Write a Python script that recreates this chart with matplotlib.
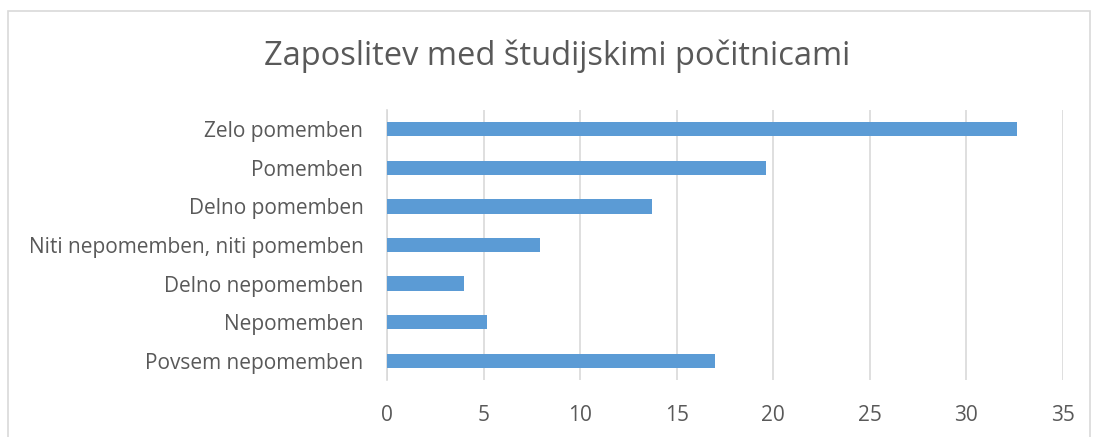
import matplotlib.pyplot as plt
from matplotlib.patches import Rectangle

categories = [
    "Zelo pomemben",
    "Pomemben",
    "Delno pomemben",
    "Niti nepomemben, niti pomemben",
    "Delno nepomemben",
    "Nepomemben",
    "Povsem nepomemben",
]
values = [32.6, 19.6, 13.7, 7.9, 4.0, 5.2, 17.0]
x_ticks = [0, 5, 10, 15, 20, 25, 30, 35]

plt.rcParams['font.family'] = ['Open Sans', 'DejaVu Sans']
text_color = '#595959'
bar_color = '#5b9bd5'
grid_color = '#d9d9d9'

fig = plt.figure(figsize=(10.94, 4.37), dpi=100)
ax = fig.add_axes([387 / 1094, 1 - 380 / 437, 676 / 1094, 270 / 437])

# outer chart border
fig.patches.append(Rectangle((8 / 1094, -0.01), 1082 / 1094, 1 - 11 / 437 + 0.01,
                             transform=fig.transFigure, fill=False,
                             edgecolor='#d9d9d9', linewidth=1.2))

y_pos = list(range(len(categories)))
ax.barh(y_pos, values, height=0.37, color=bar_color, zorder=3)
ax.set_ylim(len(categories) - 0.5, -0.5)
ax.set_xlim(0, 35)
ax.set_xticks(x_ticks)
ax.set_yticks(y_pos)
ax.set_yticklabels(categories)

ax.grid(axis='x', color=grid_color, linewidth=1.2, zorder=0)
for side in ['top', 'right', 'bottom']:
    ax.spines[side].set_visible(False)
ax.spines['left'].set_color(grid_color)
ax.spines['left'].set_linewidth(1.2)

ax.tick_params(axis='both', length=0, colors=text_color, labelsize=15)
ax.tick_params(axis='x', pad=18)
ax.tick_params(axis='y', pad=17)

fig.text(557 / 1094, 1 - 56 / 437, "Zaposlitev med študijskimi počitnicami",
         ha='center', va='center', fontsize=23.5, color=text_color)

fig.savefig('out.png', dpi=100)
